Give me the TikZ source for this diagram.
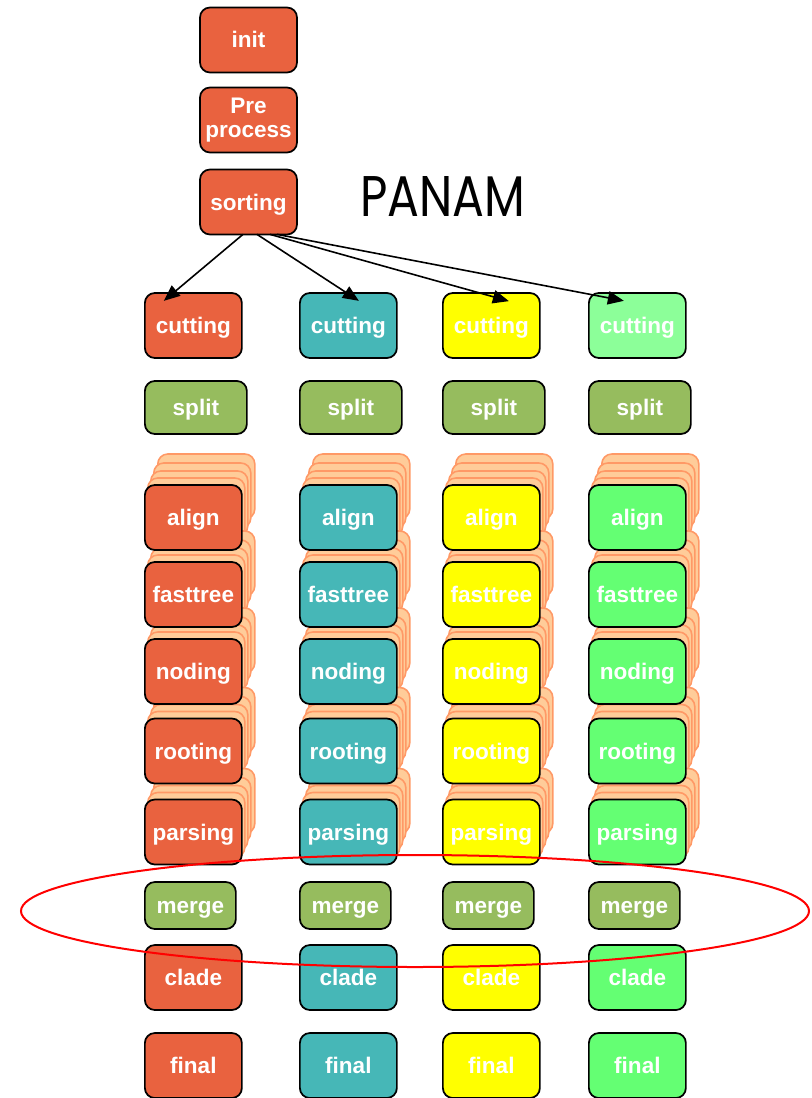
\documentclass[tikz,border=0pt]{standalone}
\usepackage{fontspec}
\usepackage{graphicx}
\setmainfont{Liberation Sans}
\newfontfamily\titlefont{Poppins}
\usetikzlibrary{arrows.meta,calc}

\definecolor{colA}{RGB}{233,98,63}
\definecolor{colB}{RGB}{70,183,183}
\definecolor{colC}{RGB}{255,255,0}
\definecolor{colD}{RGB}{100,255,115}
\definecolor{colDlight}{RGB}{140,255,153}
\definecolor{splitgreen}{RGB}{150,188,94}
\definecolor{peachfill}{RGB}{255,204,153}
\definecolor{peachline}{RGB}{255,153,102}

\tikzset{
  boxbase/.style={draw=black, line width=1.3pt, rounded corners=7.5pt,
    minimum width=72.75pt, minimum height=48.75pt, inner sep=0pt,
    text=white, align=center,
    font=\bfseries\fontsize{16.9}{17.5}\selectfont},
  box/.style={boxbase, text height=12pt, text depth=0pt},
  splitbox/.style={box, fill=splitgreen, minimum width=76.5pt, minimum height=39.75pt},
  mergebox/.style={box, fill=splitgreen, minimum width=68.25pt, minimum height=35.25pt},
  stackbox/.style={draw=peachline, fill=peachfill, line width=1.2pt,
    rounded corners=7.5pt, minimum width=72.75pt, minimum height=48.75pt,
    inner sep=0pt},
  flow/.style={-{Triangle[length=12pt,width=10pt]}, line width=1.2pt},
  ring/.style={draw=red, line width=1.5pt},
}

\begin{document}
\begin{tikzpicture}[x=0.75pt, y=-0.75pt]
\useasboundingbox (0,0) rectangle (811,1098);

% head of the pipeline
\node[box, fill=colA] (init) at (248.5,40) {init};
\node[boxbase, fill=colA] (pre) at (248.5,120) {Pre\\process};
\node[box, fill=colA] (sort) at (248.5,202) {sorting};
\node[inner sep=0pt] (title) at (443,196) {\titlefont\resizebox{123.75pt}{30pt}{PANAM}};

% stacked copies behind the per-task boxes
\foreach \c/\lx in {1/144, 2/299, 3/442, 4/588} {
  \foreach \r/\yy in {align/517.5, fasttree/594.5, noding/671.5, rooting/751, parsing/832} {
    \foreach \dx/\dy [count=\k] in {13/-31, 9/-22, 6/-14, 3/-7}
      \node[stackbox, anchor=west] (stk\c\r\k) at (\lx+\dx, \yy+\dy) {};
  }
}

% the four parallel columns
\foreach \c/\lx/\tone/\ctone in {1/144/colA/colA, 2/299/colB/colB, 3/442/colC/colC, 4/588/colD/colDlight} {
  \node[box, fill=\ctone, anchor=west] (cut\c) at (\lx,325.5) {cutting};
  \node[splitbox, anchor=west] (split\c) at (\lx,407.5) {split};
  \foreach \r/\yy in {align/517.5, fasttree/594.5, noding/671.5, rooting/751, parsing/832}
    \node[box, fill=\tone, anchor=west] (\r\c) at (\lx,\yy) {\r};
  \node[mergebox, anchor=west] (merge\c) at (\lx,905.5) {merge};
  \node[box, fill=\tone, anchor=west] (clade\c) at (\lx,977.5) {clade};
  \node[box, fill=\tone, anchor=west] (final\c) at (\lx,1065.5) {final};
}

% fan-out from sorting
\coordinate (tip1) at ($(cut1.north)+(-29.5,8.7)$);
\coordinate (tip2) at ($(cut2.north)+(10.5,8.7)$);
\coordinate (tip3) at ($(cut3.north)+(17.5,9)$);
\coordinate (tip4) at ($(cut4.north)+(-13.5,8.7)$);
\draw[flow] ($(sort.south)+(-5.5,-1)$) -- (tip1);
\draw[flow] ($(sort.south)+(8.5,-1)$) -- (tip2);
\draw[flow] ($(sort.south)+(21.5,-1)$) -- (tip3);
\draw[flow] ($(sort.south)+(28.5,-1)$) -- (tip4);

% highlight around the merge row
\draw[ring] (415,911) ellipse [x radius=295.5pt, y radius=42pt];
\end{tikzpicture}
\end{document}
